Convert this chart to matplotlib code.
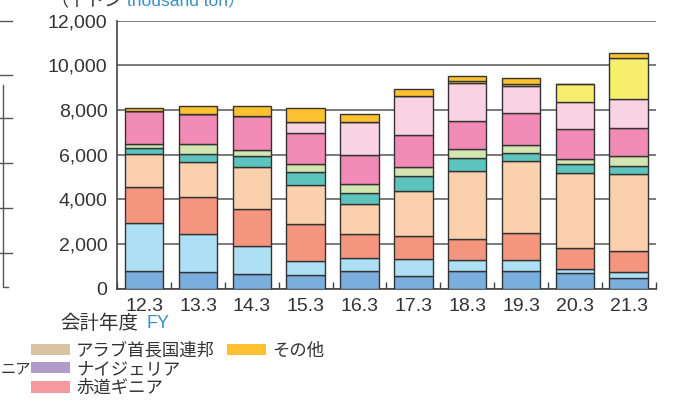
import matplotlib
matplotlib.use('Agg')
import matplotlib.pyplot as plt
import numpy as np
from matplotlib.patches import Patch
from matplotlib.lines import Line2D

plt.rcParams['font.family'] = ['Liberation Sans', 'Noto Sans CJK JP', 'DejaVu Sans']

# --- dados (千トン) ---
anos = ['12.3', '13.3', '14.3', '15.3', '16.3', '17.3', '18.3', '19.3', '20.3', '21.3']

azul_escuro = [806, 731, 642, 612, 776, 552, 776, 776, 687, 463]
azul_claro = [2119, 1717, 1253, 612, 597, 761, 493, 493, 179, 283]
salmao = [1642, 1656, 1672, 1686, 1075, 1030, 970, 1223, 940, 955]
pessego = [1478, 1582, 1866, 1732, 1328, 2030, 3015, 3209, 3373, 3418]
verde_agua = [275, 359, 492, 567, 493, 687, 582, 388, 388, 388]
verde_claro = [150, 447, 299, 373, 403, 373, 403, 344, 254, 420]
rosa = [1480, 1314, 1492, 1373, 1328, 1462, 1283, 1418, 1313, 1267]
rosa_claro = [0, 0, 0, 523, 1448, 1717, 1672, 1238, 1239, 1299]
amarelo = [0, 0, 0, 0, 0, 0, 124, 70, 776, 1836]
sonota = [160, 358, 478, 597, 358, 313, 203, 260, 0, 238]

series = [azul_escuro, azul_claro, salmao, pessego, verde_agua,
          verde_claro, rosa, rosa_claro, amarelo, sonota]
cores = ['#7aaedc', '#aee0f5', '#f4957e', '#fbd0ad', '#5cc4bc',
         '#d3e5b1', '#f18ab4', '#f9d3e4', '#f7ee6e', '#fdc12f']

legenda_nomes = ['アラブ首長国連邦', 'ナイジェリア', '赤道ギニア', 'その他']
legenda_cores = ['#d9c3a0', '#b19bc9', '#f4999f', '#fdc12f']

azul_txt = '#3a8fc8'
cinza_txt = '#333333'

# --- figura ---
W, H = 697, 401
fig = plt.figure(figsize=(W / 100, H / 100), dpi=100)
ax = fig.add_axes([117.3 / W, 1 - 288.7 / H, (655.5 - 117.3) / W, (288.7 - 20.7) / H])

x = np.arange(len(anos))
base = np.zeros(len(anos))
for valores, cor in zip(series, cores):
    ax.bar(x, valores, bottom=base, width=0.715, color=cor,
           edgecolor='#333333', linewidth=1.0, zorder=3)
    base += np.array(valores)

ax.set_xlim(-0.5, 9.5)
ax.set_ylim(0, 12000)
ax.set_yticks(np.arange(0, 12001, 2000))
ax.set_yticklabels([f'{v:,}' for v in range(0, 12001, 2000)])
ax.set_xticks(x)
ax.set_xticklabels(anos)
ax.set_xticks(np.arange(-0.5, 10, 1), minor=True)
ax.tick_params(axis='x', which='major', length=0, pad=6.5, labelsize=14, labelcolor=cinza_txt)
ax.tick_params(axis='x', which='minor', direction='in', length=5, width=1, color='#444444')
ax.tick_params(axis='y', length=0, pad=7, labelsize=14, labelcolor=cinza_txt)

ax.grid(axis='y', color='#707070', linewidth=1.3, zorder=0)
for lado in ['top', 'right']:
    ax.spines[lado].set_visible(False)
ax.spines['left'].set_color('#444444')
ax.spines['bottom'].set_color('#444444')
ax.spines['left'].set_linewidth(1.2)
ax.spines['bottom'].set_linewidth(1.2)

# rótulos
fig.text(50 / W, 1 - 6 / H, '（千トン', fontsize=13, color=cinza_txt, va='baseline')
fig.text(127 / W, 1 - 6 / H, 'thousand ton）', fontsize=12.5, color=azul_txt, va='baseline')
fig.text(60 / W, 1 - 324 / H, '会計年度', fontsize=14, color=cinza_txt, va='center')
fig.text(146 / W, 1 - 324 / H, 'FY', fontsize=13, color=azul_txt, va='center')

# legenda (parte visível)
handles = [Patch(facecolor=c, edgecolor='none') for c in legenda_cores]
vazio = Patch(facecolor='none', edgecolor='none')
leg = fig.legend(handles[:3] + [handles[3], vazio, vazio],
                 legenda_nomes[:3] + [legenda_nomes[3], '', ''],
                 ncol=2, loc='upper left', bbox_to_anchor=(31 / W, 1 - 342 / H),
                 frameon=False, fontsize=12.5, borderpad=0, borderaxespad=0,
                 handlelength=2.25, handleheight=0.65, handletextpad=0.35,
                 labelspacing=0.18, columnspacing=0.7)
for t in leg.get_texts():
    t.set_color(cinza_txt)
fig.text(0.5 / W, 1 - 370 / H, 'ニア', fontsize=11, color=cinza_txt, ha='left', va='center')

# restos do gráfico vizinho à esquerda
for yp in [20.7, 75, 118.3, 163.3, 208.3, 253.3]:
    fig.add_artist(Line2D([0, 12 / W], [1 - yp / H, 1 - yp / H], color='#555555', lw=1))
fig.add_artist(Line2D([3 / W, 3 / W, 8 / W], [1 - 85 / H, 1 - 287 / H, 1 - 287 / H],
                      color='#555555', lw=1))

fig.savefig('out.png', dpi=100)
